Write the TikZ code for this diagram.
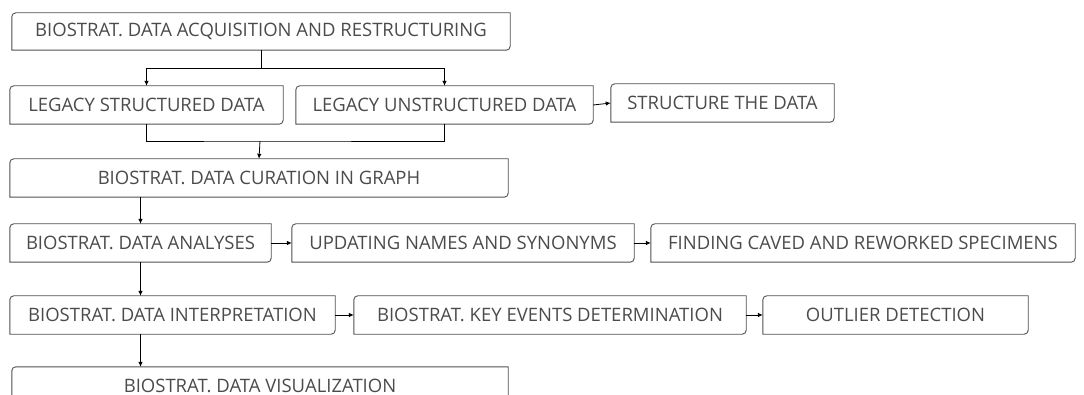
\documentclass[tikz,border=0pt]{standalone}
\usepackage{fontspec}
\setmainfont{Open Sans}
\usetikzlibrary{arrows.meta,calc}
\definecolor{txtgray}{RGB}{75,75,75}
\definecolor{linegray}{RGB}{80,80,80}
\newcommand{\diagbox}[1]{%
  \draw[boxline] (#1.south west) -- ([yshift=-4pt]#1.north west)
    arc[start angle=180,end angle=90,radius=4pt] -- (#1.north east)
    -- ([yshift=4pt]#1.south east) arc[start angle=0,end angle=-90,radius=4pt] -- cycle;}
\begin{document}
\begin{tikzpicture}[x=1pt,y=-1pt,
  box/.style={draw=none,inner sep=0pt,text=txtgray,font=\fontsize{18.5}{20}\selectfont},
  boxline/.style={draw=linegray,line width=0.9pt},
  arr/.style={draw=black,line width=0.8pt,-{Latex[length=5pt,width=4.5pt]}},
  ln/.style={draw=black,line width=0.8pt}]
\useasboundingbox (0,0) rectangle (1084,395);
\node[box,minimum width=498pt,minimum height=37pt] (b1) at (261,31.5) {BIOSTRAT. DATA ACQUISITION AND RESTRUCTURING};
\node[box,minimum width=273pt,minimum height=38pt] (ls) at (146.5,105) {LEGACY STRUCTURED DATA};
\node[box,minimum width=297pt,minimum height=38pt] (lu) at (444.5,105) {LEGACY UNSTRUCTURED DATA};
\node[box,minimum width=223pt,minimum height=38pt] (st) at (722.5,103) {STRUCTURE THE DATA};
\node[box,minimum width=498pt,minimum height=38pt] (cur) at (259,178) {BIOSTRAT. DATA CURATION IN GRAPH};
\node[box,minimum width=261pt,minimum height=38pt] (an) at (140.5,243) {BIOSTRAT. DATA ANALYSES};
\node[box,minimum width=342pt,minimum height=38pt] (up) at (463,243) {UPDATING NAMES AND SYNONYMS};
\node[box,minimum width=424pt,minimum height=38pt] (fc) at (863,243) {FINDING CAVED AND REWORKED SPECIMENS};
\node[box,minimum width=325pt,minimum height=38pt] (in) at (172.5,315) {BIOSTRAT. DATA INTERPRETATION};
\node[box,minimum width=392pt,minimum height=38pt] (ke) at (550,315) {BIOSTRAT. KEY EVENTS DETERMINATION};
\node[box,minimum width=265pt,minimum height=38pt] (ou) at (895.5,315) {OUTLIER DETECTION};
\node[box,minimum width=496pt,minimum height=38pt] (vi) at (260,386) {BIOSTRAT. DATA VISUALIZATION};
\foreach \n in {b1,ls,lu,st,cur,an,up,fc,in,ke,ou,vi}{\diagbox{\n}}
\coordinate (j1) at (261,68);
\coordinate (j2) at (260,141);
\draw[ln] (b1.south) -- (j1);
\draw[arr] (j1) -| (ls.north);
\draw[arr] (j1) -| (lu.north);
\draw[ln] (ls.south) |- (j2) -| (lu.south);
\draw[arr] (j2) -- (cur.north);
\draw[arr] (lu.east) -- (st.west);
\draw[arr] (cur.south -| an.north) -- (an.north);
\draw[arr] (an.east) -- (up.west);
\draw[arr] (up.east) -- (fc.west);
\draw[arr] (an.south) -- (an.south |- in.north);
\draw[arr] (in.east) -- (ke.west);
\draw[arr] (ke.east) -- (ou.west);
\draw[arr] (in.south -| an.south) -- (an.south |- vi.north);
\end{tikzpicture}
\end{document}
